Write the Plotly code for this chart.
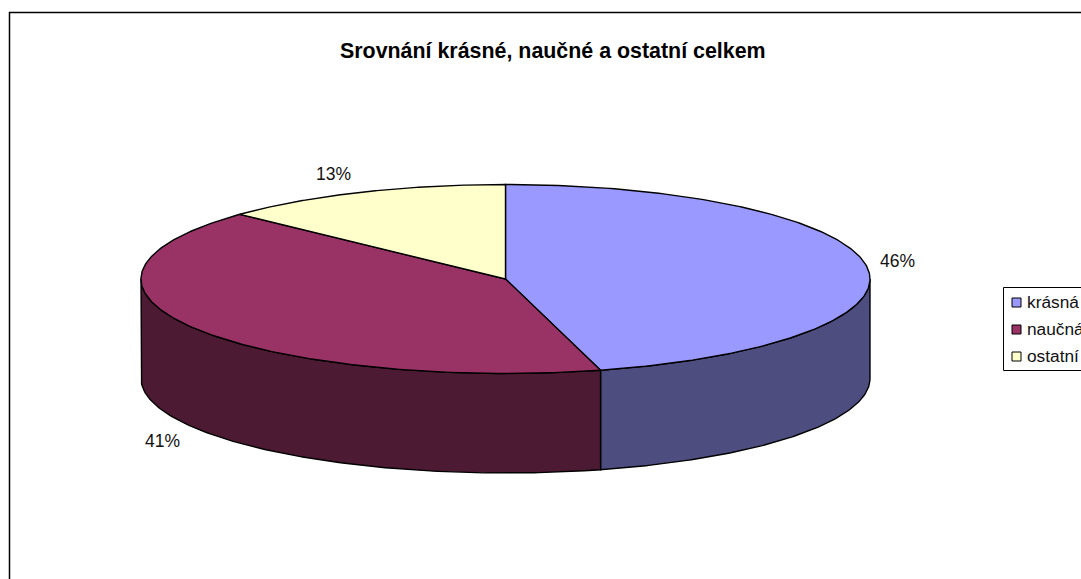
import numpy as np
import plotly.graph_objects as go

title = "Srovnání krásné, naučné a ostatní celkem"
categories = ["krásná", "naučná", "ostatní"]
values = [45.8, 41.2, 13.0]
top_colors = ["#9999FF", "#993366", "#FFFFCC"]
side_colors = ["#4D4D80", "#4D1A33", "#808066"]

W, H = 1081, 579
CX, CY, RX, RY, DEPTH = 505.5, 279, 364.5, 94.5, 99.5
FONT = "Liberation Sans, Arial, sans-serif"


def ell(t):
    return CX + RX * np.sin(t), CY - RY * np.cos(t)


fig = go.Figure()
fracs = np.array(values) / sum(values)
edges = np.concatenate([[0], np.cumsum(fracs)]) * 2 * np.pi

# side walls (only the front half of the rim is visible)
for i, name in enumerate(categories):
    a, b = max(edges[i], np.pi / 2), min(edges[i + 1], 3 * np.pi / 2)
    if b <= a:
        continue
    t = np.linspace(a, b, 160)
    x, y = ell(t)
    xs = np.concatenate([x, x[::-1], x[:1]])
    ys = np.concatenate([y, y[::-1] + DEPTH, y[:1]])
    fig.add_trace(go.Scatter(x=xs, y=ys, mode="lines", fill="toself", fillcolor=side_colors[i],
                             line=dict(color="black", width=1.4), hoverinfo="skip",
                             showlegend=False, name=name + " (bok)"))

# top faces
for i, name in enumerate(categories):
    t = np.linspace(edges[i], edges[i + 1], 200)
    x, y = ell(t)
    xs = np.concatenate([[CX], x, [CX]])
    ys = np.concatenate([[CY], y, [CY]])
    fig.add_trace(go.Scatter(x=xs, y=ys, mode="lines", fill="toself", fillcolor=top_colors[i],
                             line=dict(color="black", width=1.4), name=name, showlegend=False))

# percentage labels
label_pos = [(897, 261), (162, 441), (333, 174)]
for v, (lx, ly) in zip(values, label_pos):
    fig.add_annotation(x=lx, y=ly, text=f"{round(v)}%", showarrow=False,
                       font=dict(family=FONT, size=17.5, color="#111111"))

# chart frame and legend box
fig.add_shape(type="rect", x0=9.5, y0=12.5, x1=W + 20, y1=H + 20,
              line=dict(color="black", width=1.5), fillcolor="rgba(0,0,0,0)", layer="below")
fig.add_shape(type="rect", x0=1003.5, y0=287.5, x1=W + 20, y1=370.5,
              line=dict(color="black", width=1), fillcolor="white", layer="below")

# legend entries
legend_y = [302, 329, 356]
for name, col, ly in zip(categories, top_colors, legend_y):
    fig.add_trace(go.Scatter(x=[1016.5], y=[ly + 0.5], mode="markers", showlegend=False, hoverinfo="skip",
                             marker=dict(symbol="square", size=9, color=col, line=dict(color="black", width=1))))
    fig.add_annotation(x=1024.5, y=ly, text=name, showarrow=False, xanchor="left",
                       font=dict(family=FONT, size=17.3, color="#111111"))

fig.add_annotation(x=552.5, y=50.5, text=f"<b>{title}</b>", showarrow=False,
                   font=dict(family=FONT, size=21.4, color="black"))

fig.update_layout(
    width=W, height=H, margin=dict(l=0, r=0, t=0, b=0), autosize=False,
    paper_bgcolor="white", plot_bgcolor="white", showlegend=False,
    xaxis=dict(range=[0, W], visible=False, fixedrange=True),
    yaxis=dict(range=[H, 0], visible=False, fixedrange=True),
)
fig.write_html("out.html", config={"displayModeBar": False},
               post_script="document.body.style.margin='0';document.documentElement.style.overflow='hidden';")
